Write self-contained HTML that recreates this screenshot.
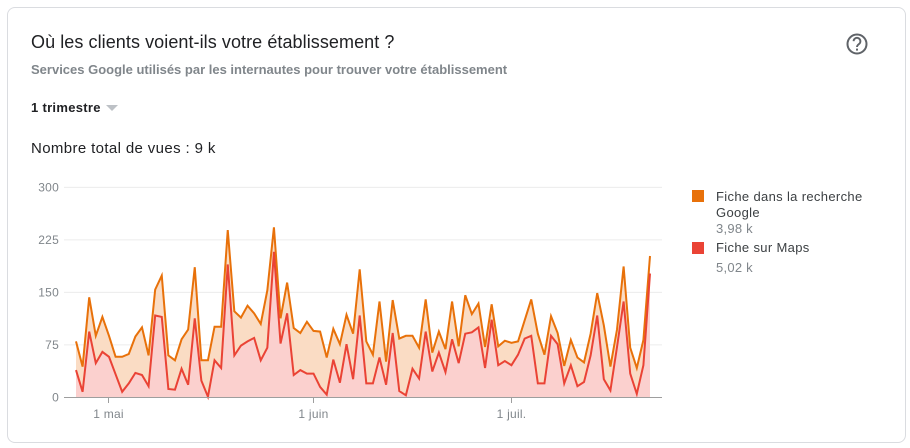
<!DOCTYPE html>
<html lang="fr">
<head>
<meta charset="utf-8">
<title>Où les clients voient-ils votre établissement ?</title>
<style>
html,body{margin:0;padding:0;background:#fff;width:910px;height:448px;overflow:hidden}
body{font-family:"Liberation Sans",sans-serif;position:relative}
.t{position:absolute;white-space:nowrap;line-height:1}
#card{position:absolute;left:7px;top:7px;width:897px;height:434px;border:1px solid #dadce0;border-radius:8px;box-sizing:content-box}
svg{position:absolute;left:0;top:0}
svg text{font-family:"Liberation Sans",sans-serif;font-size:12px;fill:#80868b;letter-spacing:.25px}
</style>
</head>
<body>
<div id="card"></div>
<div class="t" style="left:31px;top:33px;font-size:18px;color:#202124;letter-spacing:.07px">Où les clients voient-ils votre établissement ?</div>
<div class="t" style="left:31px;top:63px;font-size:13px;font-weight:bold;color:#80868b;letter-spacing:0">Services Google utilisés par les internautes pour trouver votre établissement</div>
<div class="t" style="left:31px;top:101px;font-size:13px;color:#202124;font-weight:bold;letter-spacing:.3px">1 trimestre</div>
<svg width="910" height="448" style="pointer-events:none">
<polygon points="106,105 118,105 112,111" fill="#bdc1c6"/>
<g>
<circle cx="857" cy="44" r="9.500" fill="none" stroke="#5f6368" stroke-width="2"/>
<path d="M853.600 41.200a3.400 3.400 0 1 1 5.400 2.800c-1.200.9-2 1.500-2 3" fill="none" stroke="#5f6368" stroke-width="1.900"/>
<rect x="856" y="48.600" width="2" height="2" fill="#5f6368"/>
</g>
</svg>
<div class="t" style="left:31px;top:141px;font-size:15px;color:#202124;letter-spacing:.37px">Nombre total de vues : 9 k</div>

<svg id="chart" width="910" height="448"></svg>

<div style="position:absolute;left:692px;top:190px;width:12px;height:12px;background:#e8710a"></div>
<div class="t" style="left:716px;top:189px;font-size:13px;line-height:16px;color:#3c4043;letter-spacing:.34px">Fiche dans la recherche<br>Google</div>
<div class="t" style="left:716px;top:221px;font-size:13px;line-height:16px;color:#80868b;letter-spacing:.25px">3,98 k</div>
<div style="position:absolute;left:692px;top:242px;width:12px;height:12px;background:#ea4335"></div>
<div class="t" style="left:716px;top:240px;font-size:13px;line-height:16px;color:#3c4043;letter-spacing:.34px">Fiche sur Maps</div>
<div class="t" style="left:716px;top:260px;font-size:13px;line-height:16px;color:#80868b;letter-spacing:.25px">5,02 k</div>

<script>
var categories = [
"26 avr.","27 avr.","28 avr.","29 avr.","30 avr.",
"1 mai","2 mai","3 mai","4 mai","5 mai","6 mai","7 mai","8 mai","9 mai","10 mai","11 mai","12 mai","13 mai","14 mai","15 mai","16 mai","17 mai","18 mai","19 mai","20 mai","21 mai","22 mai","23 mai","24 mai","25 mai","26 mai","27 mai","28 mai","29 mai","30 mai","31 mai",
"1 juin","2 juin","3 juin","4 juin","5 juin","6 juin","7 juin","8 juin","9 juin","10 juin","11 juin","12 juin","13 juin","14 juin","15 juin","16 juin","17 juin","18 juin","19 juin","20 juin","21 juin","22 juin","23 juin","24 juin","25 juin","26 juin","27 juin","28 juin","29 juin","30 juin",
"1 juil.","2 juil.","3 juil.","4 juil.","5 juil.","6 juil.","7 juil.","8 juil.","9 juil.","10 juil.","11 juil.","12 juil.","13 juil.","14 juil.","15 juil.","16 juil.","17 juil.","18 juil.","19 juil.","20 juil.","21 juil.","22 juil."];
var mapsViews = [39,8,94,49,65,58,33,8,20,35,32,16,117,115,12,11,41,18,113,24,1,53,42,190,60,74,80,85,53,71,208,77,120,32,39,34,34,15,4,54,21,76,26,117,20,20,57,18,92,9,3,41,27,94,37,64,36,83,49,91,93,100,42,111,46,52,46,61,84,88,20,20,88,76,20,46,16,22,60,117,26,10,72,137,34,5,46,177];
var searchViews = [41,36,49,39,50,30,25,50,42,52,68,44,37,59,48,42,42,79,73,29,52,48,59,49,63,40,51,35,52,82,35,36,44,67,53,74,61,79,53,44,55,42,65,66,60,41,80,33,47,75,85,47,44,46,27,30,33,54,24,55,26,34,30,22,27,29,32,19,26,52,71,41,28,16,25,36,41,28,31,32,77,34,25,50,37,37,36,25];
var yTicks = [0,75,150,225,300];
var xTickLabels = ["1 mai","1 juin","1 juil."];

var NS = "http://www.w3.org/2000/svg";
var svg = document.getElementById("chart");
function xScale(i){ return 76 + i * (574 / (categories.length - 1)); }
function yScale(v){ return 397.4 - v * (210 / 300); }
function make(tag, attrs){
  var el = document.createElementNS(NS, tag);
  for (var k in attrs) el.setAttribute(k, attrs[k]);
  svg.appendChild(el);
  return el;
}
yTicks.forEach(function(v){
  if (v !== 0) {
    var g = make("line", {x1:64, x2:662, y1:yScale(v), y2:yScale(v), stroke:"#ececec", "stroke-width":1});
    
    
  }
  var t = make("text", {x:59, y:yScale(v)+4, "text-anchor":"end"});
  t.textContent = v;
  
  
});
var tops = mapsViews.map(function(v, i){ return v + searchViews[i]; });
function pts(arr){ return arr.map(function(v, i){ return xScale(i).toFixed(2) + "," + yScale(v).toFixed(2); }); }
var redPts = pts(mapsViews), topPts = pts(tops);
var bandPoly = make("polygon", {points: topPts.concat(redPts.slice().reverse()).join(" "), fill:"#fadcc4"});


var redPoly = make("polygon", {points: redPts.join(" ") + " " + xScale(categories.length-1) + "," + yScale(0) + " " + xScale(0) + "," + yScale(0), fill:"#fbd0ce"});


var topLine = make("polyline", {points: topPts.join(" "), fill:"none", stroke:"#e8710a", "stroke-width":2, "stroke-linejoin":"miter"});


var redLine = make("polyline", {points: redPts.join(" "), fill:"none", stroke:"#ea4335", "stroke-width":2, "stroke-linejoin":"miter"});


var axis = make("line", {x1:64, x2:662, y1:397.5, y2:397.5, stroke:"#9e9e9e", "stroke-width":1});


xTickLabels.forEach(function(lbl){
  var i = categories.indexOf(lbl);
  var tx = Math.round(xScale(i) - 0.9) + 0.5;
  var tick = make("line", {x1:tx, x2:tx, y1:398, y2:403, stroke:"#9e9e9e", "stroke-width":1});
  
  
  var t = make("text", {x:tx, y:418, "text-anchor":"middle"});
  t.textContent = lbl;
  
  
});
</script>
</body>
</html>
